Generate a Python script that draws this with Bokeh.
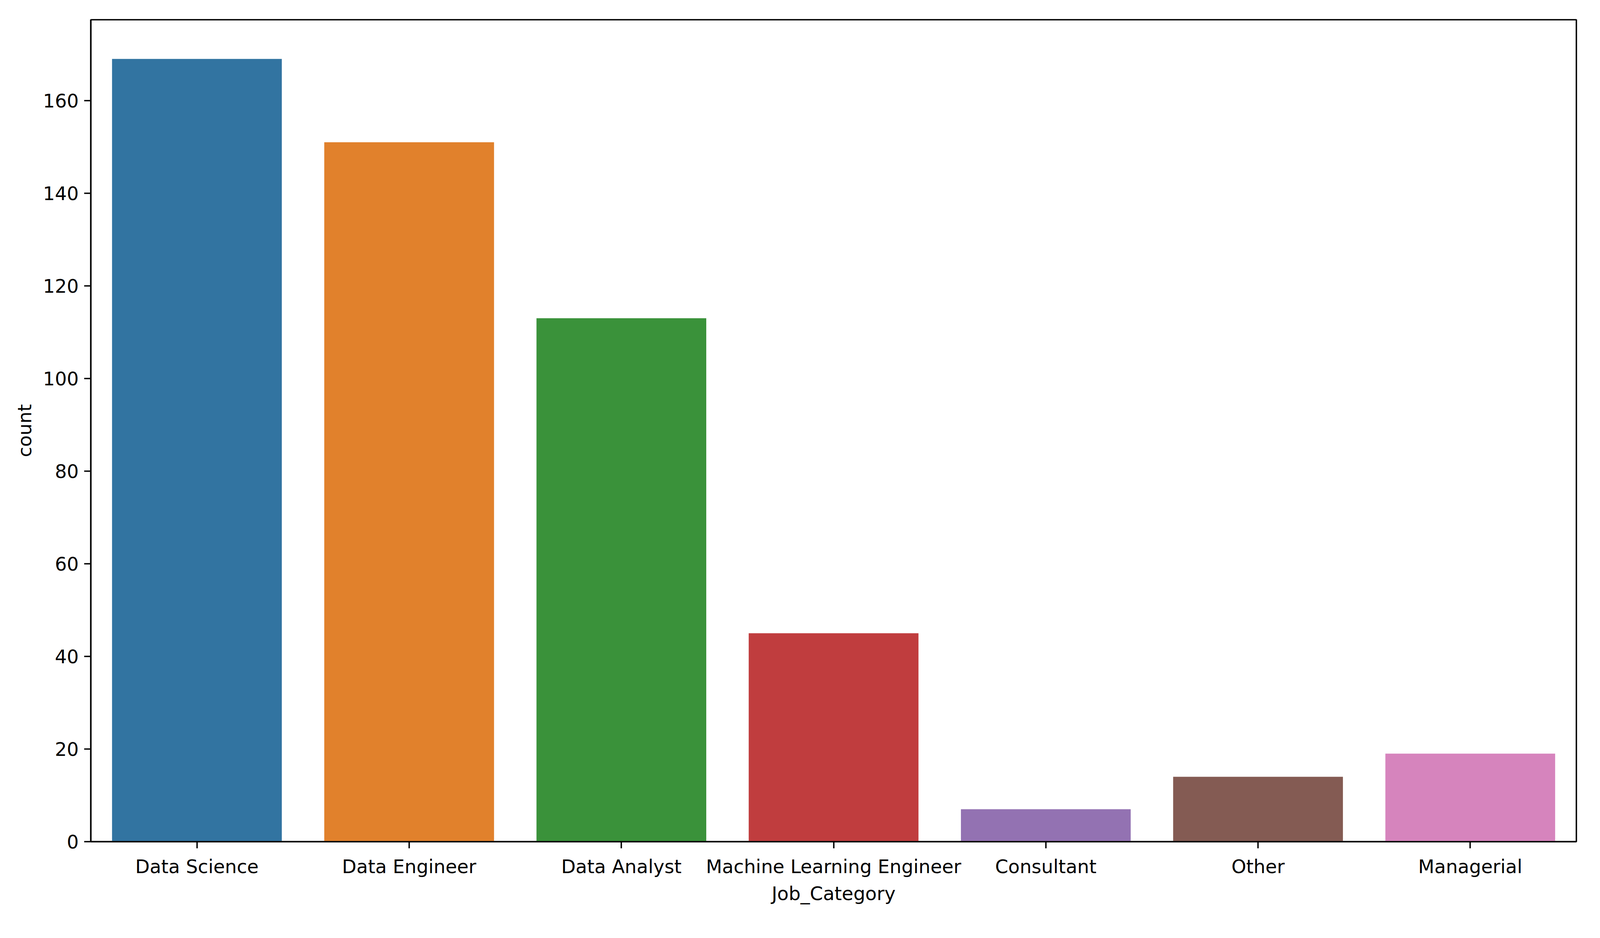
from bokeh.plotting import figure
from bokeh.models import ColumnDataSource, FactorRange, Range1d, FixedTicker
from bokeh.embed import file_html
from bokeh.resources import INLINE

categories = ["Data Science", "Data Engineer", "Data Analyst", "Machine Learning Engineer",
              "Consultant", "Other", "Managerial"]
counts = [169, 151, 113, 45, 7, 14, 19]
colors = ["#3274a1", "#e1812c", "#3a923a", "#c03d3e", "#9372b2", "#845b53", "#d684bd"]
y_ticks = [0, 20, 40, 60, 80, 100, 120, 140, 160]

src = ColumnDataSource(dict(cat=categories, count=counts, color=colors))

FONT = "DejaVu Sans"
FS = "48px"

p = figure(
    x_range=FactorRange(*categories, range_padding=0),
    y_range=Range1d(0, max(counts) * 1.05),
    frame_width=3803, frame_height=2103,
    min_border_left=232, min_border_top=50, min_border_right=45, min_border_bottom=231,
    output_backend="svg", toolbar_location=None,
    background_fill_color="white", border_fill_color="white",
)

p.vbar(x="cat", top="count", width=0.8, bottom=0, source=src,
       fill_color="color", line_color=None)

p.xgrid.visible = False
p.ygrid.visible = False
p.outline_line_color = "black"
p.outline_line_width = 3.6
p.outline_line_alpha = 1

p.yaxis.ticker = FixedTicker(ticks=y_ticks)
p.yaxis.axis_label = "count"
p.xaxis.axis_label = "Job_Category"

for ax in (p.xaxis, p.yaxis):
    ax.axis_line_color = "black"
    ax.axis_line_width = 3.6
    ax.major_tick_line_color = "black"
    ax.major_tick_line_width = 3.6
    ax.major_tick_out = 17
    ax.major_tick_in = 0
    ax.minor_tick_out = 0
    ax.minor_tick_in = 0
    ax.major_label_text_font = FONT
    ax.major_label_text_font_size = FS
    ax.major_label_text_color = "black"
    ax.axis_label_text_font = FONT
    ax.axis_label_text_font_size = FS
    ax.axis_label_text_font_style = "normal"
    ax.axis_label_text_color = "black"

p.yaxis.major_label_standoff = 14
p.yaxis.axis_label_standoff = 16
p.xaxis.major_label_standoff = 18
p.xaxis.axis_label_standoff = 10
p.xaxis.group_text_font_size = FS

open("out.html", "w").write(file_html(p, INLINE))
